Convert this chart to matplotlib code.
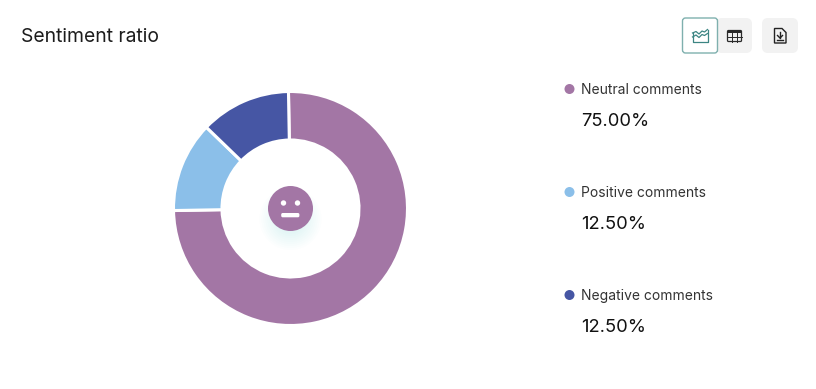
import matplotlib
matplotlib.use("Agg")
import matplotlib.pyplot as plt
from matplotlib.patches import Circle, FancyBboxPatch, Polygon, Rectangle

plt.rcParams['font.family'] = ['Inter', 'DejaVu Sans']

labels = ['Neutral comments', 'Positive comments', 'Negative comments']
values = [75.0, 12.5, 12.5]
colors = ['#a376a5', '#8bbfe9', '#4656a4']
title = 'Sentiment ratio'

W = 816
H = 389

fig = plt.figure(figsize=(W / 100, H / 100), dpi=100)
ax = fig.add_axes([0, 0, 1, 1])


def Y(y):
    # picture coords are from the top
    return H - y


ax.pie(values, colors=colors, startangle=91, counterclock=False,
       center=(290.5, Y(208.5)), radius=117, frame=True,
       wedgeprops=dict(width=48.5, edgecolor='white', linewidth=2.2))

ax.set_xlim(0, W)
ax.set_ylim(0, H)
ax.set_aspect('auto')
ax.axis('off')

ax.text(21, Y(36.5), title, fontsize=13.9, color='#1c1c1c', va='center', ha='left')

# legend column
legend_y = [89, 192, 295]
for name, val, col, ly in zip(labels, values, colors, legend_y):
    ax.add_patch(Circle((569.5, Y(ly)), 5, color=col, lw=0))
    ax.text(581, Y(ly + 0.8), name, fontsize=10, color='#333333', va='center', ha='left')
    ax.text(581, Y(ly + 32.5), '%.2f%%' % val, fontsize=13.25, color='#111111', va='center', ha='left')

# glow under the face
for i in range(10):
    r = 31 - i * 2
    ax.add_patch(Circle((290.5, Y(219)), r, color='#8fd8e4', alpha=0.022, lw=0))

# face in the middle
ax.add_patch(Circle((290.5, Y(208.5)), 22.5, color=colors[0], lw=0))
ax.add_patch(Circle((283.5, Y(203)), 2.7, color='white', lw=0))
ax.add_patch(Circle((297.5, Y(203)), 2.7, color='white', lw=0))
ax.add_patch(FancyBboxPatch((281.2, Y(217.3)), 18.2, 4.3, boxstyle='round,pad=0,rounding_size=1.5',
                            fc='white', ec='none'))

# buttons top right
ax.add_patch(FancyBboxPatch((716, Y(53)), 36, 35, boxstyle='round,pad=0,rounding_size=6',
                            fc='#f2f2f2', ec='none'))
ax.add_patch(FancyBboxPatch((762, Y(53)), 36, 35, boxstyle='round,pad=0,rounding_size=6',
                            fc='#f2f2f2', ec='none'))
ax.add_patch(FancyBboxPatch((682.5, Y(53)), 35, 35, boxstyle='round,pad=0,rounding_size=3',
                            fc='white', ec='#7fb0ae', lw=1))

# chart icon
icon_teal = '#3c8583'
ax.plot([692.5, 692.5, 707.5, 707.5], [Y(33), Y(42), Y(42), Y(29.5)], color=icon_teal, lw=0.9)
ax.plot([692.5, 696, 699, 702, 704.5, 707.5], [Y(33), Y(31.5), Y(34), Y(31), Y(32), Y(29.5)], color=icon_teal, lw=0.9)
ax.plot([692.5, 696, 699, 702, 704.5, 707.5], [Y(37), Y(35), Y(37.5), Y(34.5), Y(35.5), Y(33.5)], color=icon_teal, lw=0.9)

# table icon
ax.add_patch(FancyBboxPatch((727.5, Y(41.5)), 14, 11, boxstyle='round,pad=0,rounding_size=1',
                            fc='none', ec='#2a2a2a', lw=0.9))
ax.add_patch(Rectangle((727.5, Y(33)), 14, 2.5, fc='#2a2a2a', ec='none'))
ax.plot([727.5, 741.5], [Y(37.2), Y(37.2)], color='#2a2a2a', lw=0.7)
ax.plot([732.2, 732.2], [Y(33), Y(41.5)], color='#2a2a2a', lw=0.7)
ax.plot([736.8, 736.8], [Y(33), Y(41.5)], color='#2a2a2a', lw=0.7)

# download file icon
ax.add_patch(Polygon([(774.5, Y(28.5)), (782, Y(28.5)), (786, Y(32.5)), (786, Y(43)), (774.5, Y(43))],
                     closed=True, fc='none', ec='#222222', lw=1))
ax.plot([780, 780], [Y(32), Y(37.5)], color='#222222', lw=1)
ax.plot([777.5, 780, 782.5], [Y(35.5), Y(38), Y(35.5)], color='#222222', lw=1)
ax.plot([777, 783], [Y(40), Y(40)], color='#222222', lw=1)

fig.savefig('out.png', dpi=100, facecolor='white')
